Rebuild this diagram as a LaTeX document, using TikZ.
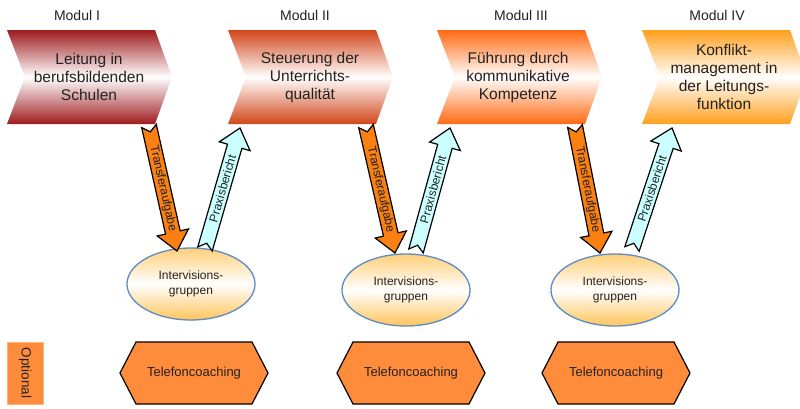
\documentclass[tikz,border=0pt]{standalone}
\usepackage{fontspec}
\setmainfont{Liberation Sans}
\usetikzlibrary{calc,shapes.geometric}
\definecolor{cA}{HTML}{9E1B1E}
\definecolor{cB}{HTML}{D2461A}
\definecolor{cC}{HTML}{FF6A13}
\definecolor{cD}{HTML}{FFA01E}
\definecolor{tfill}{HTML}{FA8012}
\definecolor{pfill}{HTML}{CCFFFF}
\definecolor{ebord}{HTML}{5B8CC8}
\definecolor{etop}{HTML}{FFCF78}
\definecolor{ebot}{HTML}{FFC45A}
\definecolor{hfill}{HTML}{FF8C3A}
\definecolor{obord}{HTML}{FFB27A}
\definecolor{txt}{HTML}{222222}
\tikzset{
  chevtext/.style={align=center, text=txt, font=\fontsize{15.5}{18}\selectfont, inner sep=0},
  modlabel/.style={text=txt, font=\fontsize{14}{16}\selectfont, inner sep=0},
  arrowline/.style={draw=black, line width=1.2pt, line join=miter},
  arrowlabel/.style={text=txt, font=\fontsize{12}{14}\selectfont, inner sep=0},
  intervision/.style={ellipse, draw=ebord, line width=1.3pt, top color=etop, bottom color=ebot, middle color=white,
     minimum width=128pt, minimum height=72pt, inner sep=0, align=center, text=txt,
     font=\fontsize{12}{14.5}\selectfont},
  hexbox/.style={fill=hfill, draw=black, line width=1.2pt, line join=miter},
  hextext/.style={text=txt, font=\fontsize{13}{15}\selectfont, inner sep=0}
}
\newcommand{\blockarr}[4]{%
  \coordinate (bh) at ($(#2)!19pt!(#1)$);
  \filldraw[arrowline, fill=#3]
    ($(#1)!7.5pt!90:(#2)$) -- ($(bh)!7.5pt!90:(#2)$) -- ($(bh)!16pt!90:(#2)$) -- (#2)
    -- ($(bh)!16pt!-90:(#2)$) -- ($(bh)!7.5pt!-90:(#2)$) -- ($(#1)!7.5pt!-90:(#2)$)
    -- ($(#1)!6pt!(#2)$) -- cycle;
  \path (#1) -- (#2) node[midway, sloped, arrowlabel] {#4};
}
\newcommand{\chevron}[2]{% left x, color
  \shade[top color=#2, bottom color=#2, middle color=white]
    (#1,30) -- ({#1+148},30) -- ({#1+165},77) -- ({#1+148},124) -- (#1,124) -- ({#1+18},77) -- cycle;
}
\newcommand{\hexa}[1]{% center x
  \filldraw[hexbox] ({#1-74},373) -- ({#1-58},342) -- ({#1+58},342) -- ({#1+74},373)
    -- ({#1+58},404) -- ({#1-58},404) -- cycle;
}
\begin{document}
\begin{tikzpicture}[x=1pt, y=-1pt]
\useasboundingbox (0,0) rectangle (800,408);
\fill[white] (0,0) rectangle (800,408);

% Modul labels
\node[modlabel] (l1) at (77,15) {Modul I};
\node[modlabel] (l2) at (305,15) {Modul II};
\node[modlabel] (l3) at (521,15) {Modul III};
\node[modlabel] (l4) at (717,15) {Modul IV};

% Chevrons
\chevron{7}{cA}
\chevron{228}{cB}
\chevron{437}{cC}
\chevron{642}{cD}
\node[chevtext] (m1) at (89,77) {Leitung in\\berufsbildenden\\Schulen};
\node[chevtext] (m2) at (310,77) {Steuerung der\\Unterrichts-\\qualität};
\node[chevtext] (m3) at (518,77) {Führung durch\\kommunikative\\Kompetenz};
\node[chevtext] (m4) at (724,77) {Konflikt-\\management in\\der Leitungs-\\funktion};

% Intervision groups
\node[intervision] (e1) at (191,284) {Intervisions-\\gruppen};
\node[intervision] (e2) at (406,290) {Intervisions-\\gruppen};
\node[intervision] (e3) at (615,290) {Intervisions-\\gruppen};

% Arrow end points
\coordinate (t1a) at (149,126); \coordinate (t1b) at (177,251);
\coordinate (p1a) at (205,249); \coordinate (p1b) at (240,128);
\coordinate (t2a) at (366,126); \coordinate (t2b) at (395,253);
\coordinate (p2a) at (416,251); \coordinate (p2b) at (450,128);
\coordinate (t3a) at (575,126); \coordinate (t3b) at (600,253);
\coordinate (p3a) at (632,249); \coordinate (p3b) at (672,128);

\blockarr{t1a}{t1b}{tfill}{Transferaufgabe}
\blockarr{p1a}{p1b}{pfill}{Praxisbericht}
\blockarr{t2a}{t2b}{tfill}{Transferaufgabe}
\blockarr{p2a}{p2b}{pfill}{Praxisbericht}
\blockarr{t3a}{t3b}{tfill}{Transferaufgabe}
\blockarr{p3a}{p3b}{pfill}{Praxisbericht}

% Optional
\filldraw[fill=hfill, draw=obord, line width=0.8pt] (7,342) rectangle (43,404);
\node[rotate=-90, text=txt, font=\fontsize{13.5}{15}\selectfont, inner sep=0] (opt) at (25,373) {Optional};

% Telefoncoaching
\hexa{194}
\hexa{411}
\hexa{616}
\node[hextext] (h1) at (194,373) {Telefoncoaching};
\node[hextext] (h2) at (411,373) {Telefoncoaching};
\node[hextext] (h3) at (616,373) {Telefoncoaching};
\end{tikzpicture}
\end{document}
